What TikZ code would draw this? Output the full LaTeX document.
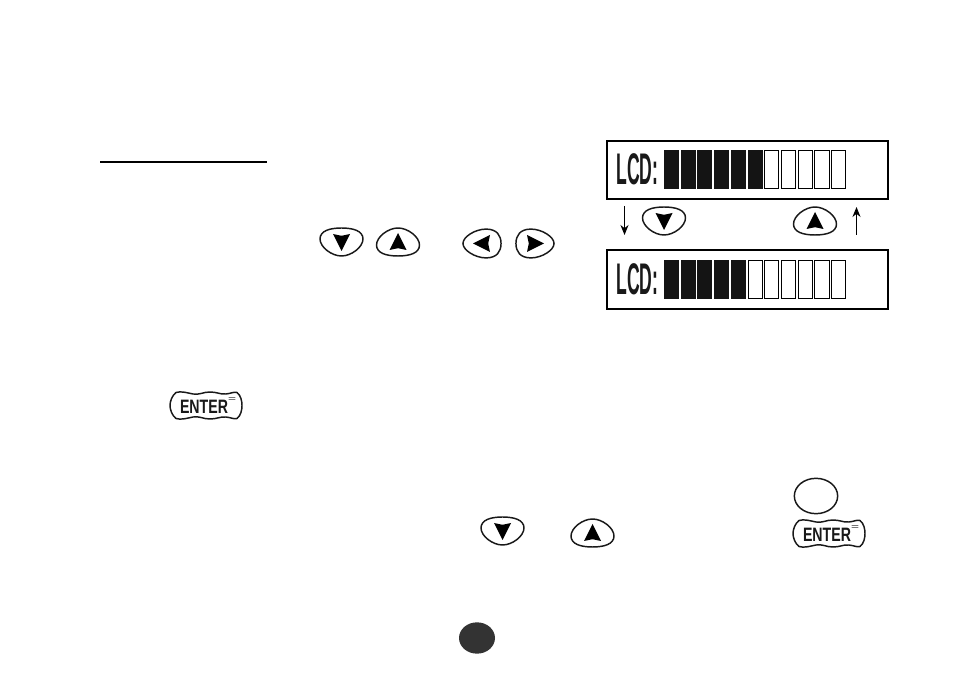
\documentclass[tikz,border=0pt]{standalone}
\usepackage{fontspec}
\usepackage{graphicx}
\setmainfont{Liberation Sans}
\usetikzlibrary{arrows.meta,shapes.geometric}
\tikzset{
  panel/.style={draw=black,line width=1.5pt,fill=white,minimum width=211pt,minimum height=44pt,inner sep=0pt,outer sep=0pt},
  segon/.style={draw=none,fill=black!92,minimum width=11.25pt,minimum height=29.25pt,inner sep=0pt,outer sep=0pt},
  segoff/.style={draw=black,fill=white,line width=.6pt,minimum width=10.65pt,minimum height=28.65pt,inner sep=0pt,outer sep=0pt},
  lcdtext/.style={inner sep=0pt,outer sep=0pt,text=black!90},
  keyshell/.style={draw=black!90,line width=1.1pt,fill=white,line join=round},
  keymark/.style={fill=black,draw=none},
  scalearrow/.style={draw=black,line width=.7pt,-{Stealth[length=7.5pt,width=6pt]}},
  pics/arrowkey/.style n args={3}{code={
    \path[keyshell,rotate=#1,xscale=#2,yscale=#3] (-21.5,-3) .. controls (-21.5,-11) and (-12,-14) .. (0,-14)
      .. controls (12,-14) and (21.5,-11) .. (21.5,-3)
      .. controls (21.5,5) and (10,14) .. (0,14)
      .. controls (-10,14) and (-21.5,5) .. cycle;
    \fill[keymark,rotate=#1] (-8.5,-8) -- (0,-6.2) -- (8.5,-8) -- (0,9) -- cycle;
  }},
  pics/enterkey/.style={code={
    \path[keyshell] (-30,-13) .. controls (-25,-14.5) and (-20,-13) .. (-13,-11.5)
      .. controls (-6,-10.5) and (-3,-13.5) .. (4,-13.5)
      .. controls (11,-13.5) and (14,-11) .. (20,-11.5)
      .. controls (25,-12) and (28,-14) .. (31,-13)
      .. controls (35,-10) and (36,-4) .. (36,0)
      .. controls (36,4) and (35,10) .. (31,13)
      .. controls (28,14) and (25,12) .. (20,11.5)
      .. controls (14,11) and (11,13.5) .. (4,13.5)
      .. controls (-3,13.5) and (-6,10.5) .. (-13,11.5)
      .. controls (-20,13) and (-25,14.5) .. (-30,13)
      .. controls (-34,10) and (-36,4) .. (-36,0)
      .. controls (-36,-4) and (-34,-10) .. cycle;
    \node[lcdtext,anchor=center] (-etext) at (-2,1) {\resizebox{36pt}{10pt}{\bfseries ENTER}};
    \node[lcdtext,anchor=center] (-eq) at (26,-5.5) {\resizebox{6pt}{3pt}{=}};
  }}
}
\newcommand{\lcdrow}[3]{%
  \foreach \i in {0,...,10}{%
    \pgfmathtruncatemacro{\lit}{\i<#2 ? 1 : 0}%
    \ifnum\lit=1
      \node[segon] (#1seg\i) at ({671.5+16.7*\i},#3) {};
    \else
      \node[segoff] (#1seg\i) at ({671.5+16.7*\i},#3) {};
    \fi
  }%
  \node[lcdtext,anchor=center] (#1label) at (637.3,#3) {\resizebox{31.5pt}{23.2pt}{\bfseries LCD:}};
}
\begin{document}
\begin{tikzpicture}[x=0.75pt,y=-0.75pt]
\useasboundingbox (0,0) rectangle (954,673);
\fill[white] (0,0) rectangle (954,673);

\draw[black,line width=1pt] (100,162) coordinate (ruleL) -- (267,162) coordinate (ruleR);

\node[panel] (lcdA) at (747.5,170) {};
\node[panel] (lcdB) at (747.5,279.5) {};
\lcdrow{a}{6}{169.5}
\lcdrow{b}{5}{279.5}

\coordinate (dnStart) at (624.5,206);
\coordinate (dnEnd) at (624.5,235);
\coordinate (upStart) at (856.5,235);
\coordinate (upEnd) at (856.5,207);
\draw[scalearrow] (dnStart) -- (dnEnd);
\draw[scalearrow] (upStart) -- (upEnd);

\pic (kpd) at (664,221) {arrowkey={0}{1}{1}};
\pic (kpu) at (815,221) {arrowkey={180}{1}{1}};

\pic (k1d) at (341.5,242) {arrowkey={0}{1}{1}};
\pic (k1u) at (398,242) {arrowkey={180}{1}{1}};
\pic (k1l) at (482,243.5) {arrowkey={-90}{.67}{1.36}};
\pic (k1r) at (535,243.5) {arrowkey={90}{.67}{1.36}};

\pic (k2d) at (502.5,531) {arrowkey={0}{1}{1}};
\pic (k2u) at (592.5,533) {arrowkey={180}{1}{1}};

\pic (e1) at (206,405.5) {enterkey};
\pic (e2) at (829,533.5) {enterkey};

\node[draw=black!90,line width=1.1pt,fill=white,ellipse,minimum width=32.5pt,minimum height=26.5pt,inner sep=0pt,outer sep=0pt] (blank) at (816,496) {};
\node[fill=black!80,ellipse,minimum width=27pt,minimum height=23.5pt,inner sep=0pt,outer sep=0pt] (page) at (477,638) {};
\end{tikzpicture}
\end{document}
